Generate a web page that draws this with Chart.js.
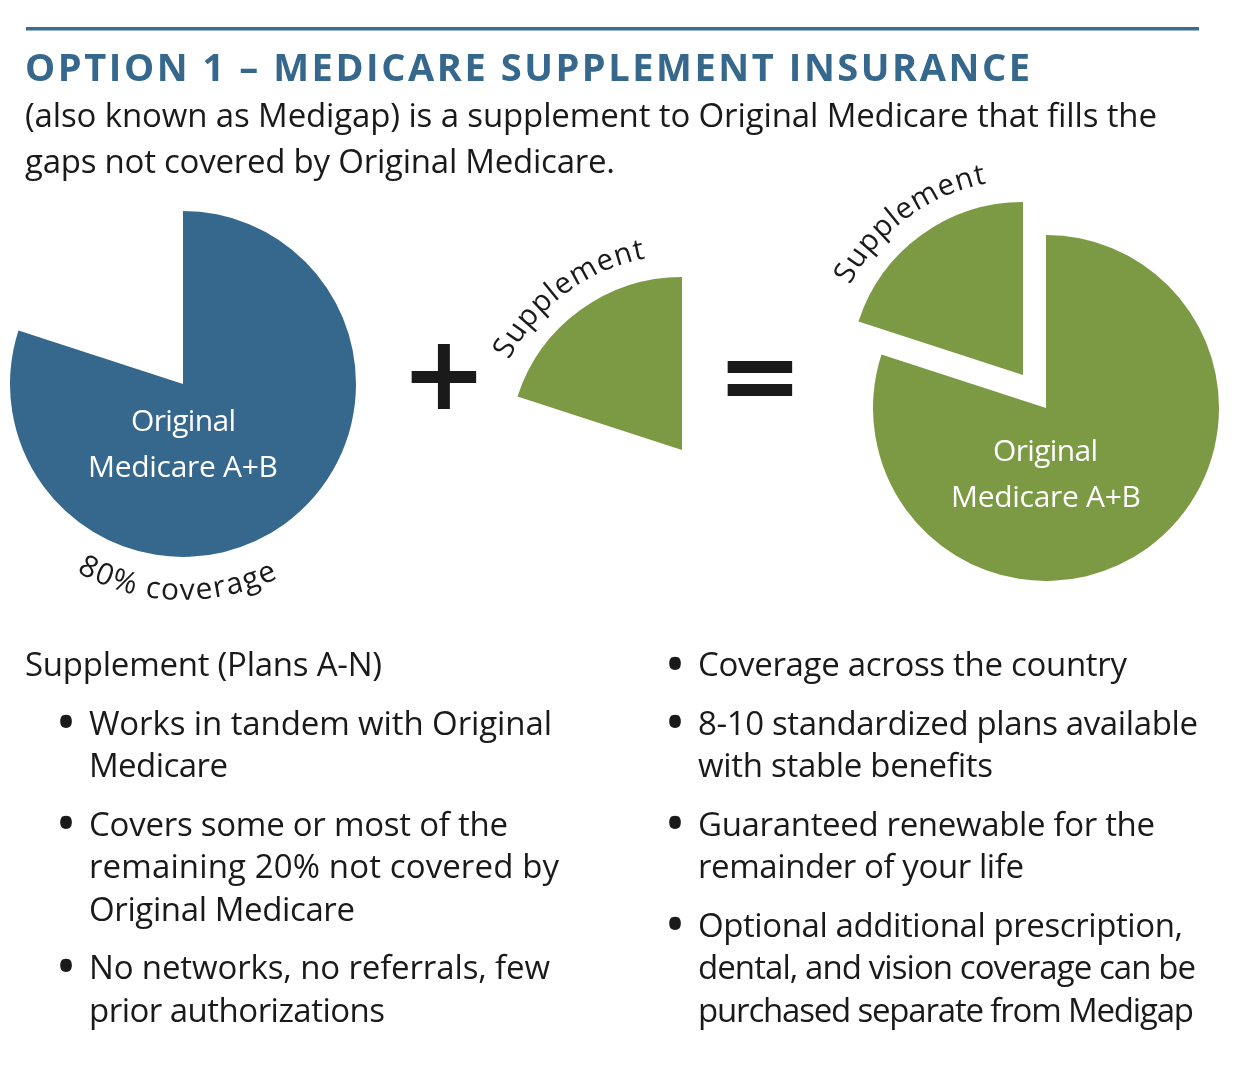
<!DOCTYPE html>
<html>
<head>
<meta charset="utf-8">
<title>Option 1 - Medicare Supplement Insurance</title>
<script src="https://cdn.jsdelivr.net/npm/chart.js@4"></script>
<style>
    html, body { margin: 0; padding: 0; background: #fff; }
    #page { position: relative; width: 1234px; height: 1082px; overflow: hidden; }
    canvas { position: absolute; }
    #labels { position: absolute; left: 0; top: 0; }
    #labels text { font-family: "Open Sans", sans-serif; font-size: 33px; fill: #1a1a1a; white-space: pre; }
</style>
</head>
<body>
<div id="page">
    <canvas id="pieOriginal" width="346" height="346" style="left:10px;top:211px"></canvas>
    <canvas id="pieSupplement" width="346" height="346" style="left:509px;top:277px"></canvas>
    <canvas id="pieCombinedBase" width="346" height="346" style="left:873px;top:235px"></canvas>
    <canvas id="pieCombinedGap" width="346" height="346" style="left:850px;top:202px"></canvas>
    <svg id="labels" width="1234" height="1082" xmlns="http://www.w3.org/2000/svg"></svg>
</div>
<script>
// slices of every pie
const sliceLabels = ['Original Medicare A+B', 'Supplement'];
const sliceValues = [80, 20];

const BLUE = '#35688c';
const GREEN = '#7c9a43';
const NONE = 'rgba(0,0,0,0)';

const titleText = 'OPTION 1 \u2013 MEDICARE SUPPLEMENT INSURANCE';
const introLines = [
    '(also known as Medigap) is a supplement to Original Medicare that fills the',
    'gaps not covered by Original Medicare.'
];
const baseLabel = ['Original', 'Medicare A+B'];
const leftHeading = 'Supplement (Plans A-N)';

function drawPie(id, colors) {
    new Chart(document.getElementById(id), {
        type: 'pie',
        data: {
            labels: sliceLabels,
            datasets: [{ data: sliceValues, backgroundColor: colors, borderWidth: 0 }]
        },
        options: {
            responsive: false,
            animation: false,
            events: [],
            plugins: { legend: { display: false }, tooltip: { enabled: false } }
        }
    });
}

drawPie('pieOriginal', [BLUE, NONE]);
drawPie('pieSupplement', [NONE, GREEN]);
drawPie('pieCombinedBase', [GREEN, NONE]);
drawPie('pieCombinedGap', [NONE, GREEN]);

const svg = document.getElementById('labels');
const NS = 'http://www.w3.org/2000/svg';

function put(str, x, y, width, attrs) {
    const t = document.createElementNS(NS, 'text');
    t.textContent = str;
    t.setAttribute('x', x);
    t.setAttribute('y', y);
    if (width) {
        t.setAttribute('textLength', width);
        t.setAttribute('lengthAdjust', 'spacing');
    }
    for (const k in (attrs || {})) t.setAttribute(k, attrs[k]);
    svg.appendChild(t);
    return t;
}

// text bent along a circle around the pie
function putCurved(str, id, cx, cy, r, fromDeg, toDeg, clockwise, size, spacing) {
    const pt = a => [cx + r * Math.sin(a * Math.PI / 180), cy - r * Math.cos(a * Math.PI / 180)];
    const [x0, y0] = pt(fromDeg);
    const [x1, y1] = pt(toDeg);
    const p = document.createElementNS(NS, 'path');
    p.setAttribute('id', id);
    p.setAttribute('fill', 'none');
    p.setAttribute('d', `M${x0} ${y0} A${r} ${r} 0 0 ${clockwise ? 1 : 0} ${x1} ${y1}`);
    svg.appendChild(p);

    const t = document.createElementNS(NS, 'text');
    t.setAttribute('text-anchor', 'middle');
    t.setAttribute('style', `font-size:${size}px;letter-spacing:${spacing}px`);
    const tp = document.createElementNS(NS, 'textPath');
    tp.setAttribute('href', '#' + id);
    tp.setAttribute('startOffset', '50%');
    tp.textContent = str;
    t.appendChild(tp);
    svg.appendChild(t);
}

function putBullet(x, centerY) {
    put('\u2022', x, centerY + 19.6, 0, { 'text-anchor': 'middle', style: 'font-size:56px' });
}

// top rule
const rule = document.createElementNS(NS, 'rect');
rule.setAttribute('x', 26);
rule.setAttribute('y', 27);
rule.setAttribute('width', 1173);
rule.setAttribute('height', 3.5);
rule.setAttribute('fill', '#3a6d90');
svg.appendChild(rule);

put(titleText, 25, 81, 1005, { style: 'font-size:38px;font-weight:700;fill:' + BLUE });
put(introLines[0], 25, 127, 1132);
put(introLines[1], 25, 173, 590);

// text inside the pies
const inPie = { style: 'font-size:30px;fill:#fff' };
put(baseLabel[0], 131, 431, 105, inPie);
put(baseLabel[1], 88, 477, 190, inPie);
put(baseLabel[0], 993, 461, 105, inPie);
put(baseLabel[1], 951, 507, 190, inPie);

// curved labels
putCurved('80% coverage', 'arcCoverage', 183, 384, 216, -128, 131, false, 30, 1.5);
putCurved('Supplement', 'arcSupplement', 682, 450, 195, -86.5, 13.5, true, 29.5, 1);
putCurved('Supplement', 'arcSupplementTop', 1023, 375, 195, -86.5, 13.5, true, 29.5, 1);

// operators
const operator = { 'text-anchor': 'middle', style: 'font-family:"DejaVu Sans";font-weight:700;font-size:103px' };
put('+', 444, 408.5, 0, operator);
put('=', 760, 411, 0, operator);

// lists
put(leftHeading, 25, 676, 357);

putBullet(66, 722);
put('Works in tandem with Original', 89, 735, 463);
put('Medicare', 89, 777, 139);
putBullet(66, 823);
put('Covers some or most of the', 89, 836, 419);
put('remaining 20% not covered by', 89, 878, 470);
put('Original Medicare', 89, 921, 266);
putBullet(66, 966);
put('No networks, no referrals, few', 89, 979, 461);
put('prior authorizations', 89, 1022, 296);

putBullet(675, 664);
put('Coverage across the country', 698, 676, 429);
putBullet(675, 722);
put('8-10 standardized plans available', 698, 735, 500);
put('with stable benefits', 698, 777, 295);
putBullet(675, 823);
put('Guaranteed renewable for the', 698, 836, 457);
put('remainder of your life', 698, 878, 326);
putBullet(675, 924);
put('Optional additional prescription,', 698, 937, 485);
put('dental, and vision coverage can be', 698, 979, 498);
put('purchased separate from Medigap', 698, 1022, 496);
</script>
</body>
</html>
